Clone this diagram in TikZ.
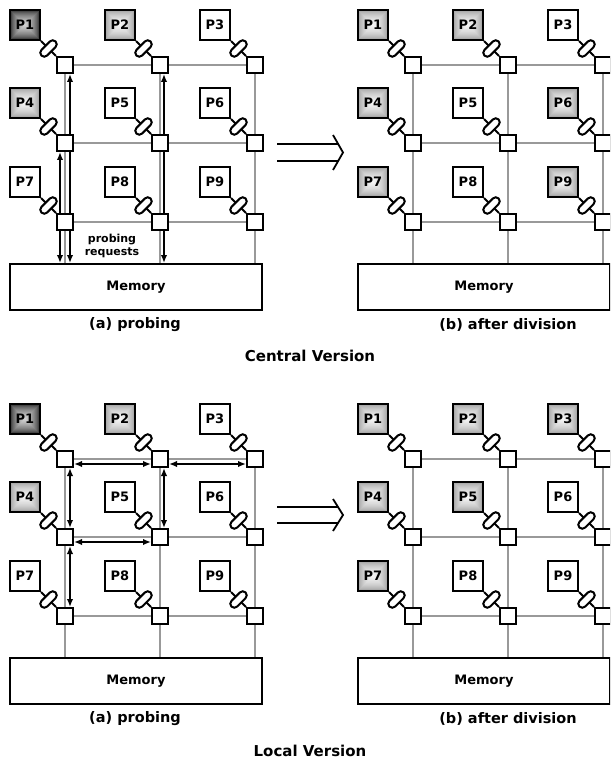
\documentclass[tikz,border=0pt]{standalone}
\usepackage{fontspec}
\setmainfont{DejaVu Sans}
\usetikzlibrary{arrows.meta,shapes.misc,backgrounds,calc}

\definecolor{pdarkout}{gray}{0.10}
\definecolor{pdarkin}{gray}{0.82}
\definecolor{plightout}{gray}{0.58}
\definecolor{plightin}{gray}{0.96}

\tikzset{
  pbox/.style={draw=black, line width=2pt, minimum size=30pt, inner sep=0pt,
    font=\fontsize{13}{15}\selectfont\bfseries},
  router/.style={draw=black, line width=2pt, fill=white, minimum size=16pt, inner sep=0pt},
  gridline/.style={draw=black!40, line width=1.1pt},
  linkwire/.style={draw=black, line width=2pt},
  capsule/.style={draw=black, line width=2pt, fill=white, rounded rectangle,
    minimum width=20pt, minimum height=8pt, inner sep=0pt, rotate=45},
  probe/.style={draw=black, line width=2pt,
    {Latex[length=8pt,width=6.5pt]}-{Latex[length=8pt,width=6.5pt]}},
  membox/.style={draw=black, line width=2pt, minimum width=252pt, minimum height=46pt,
    inner sep=0pt, font=\fontsize{13}{15}\selectfont\bfseries},
  subcap/.style={font=\fontsize{14.5}{17}\selectfont\bfseries},
  versiontitle/.style={font=\fontsize{15}{18}\selectfont\bfseries},
  bigarrow/.style={draw=black, line width=1.8pt},
}

% square with a box-shaped gradient: #1,#2 top-left corner, #3 edge colour, #4 centre colour
\newcommand\gradsq[4]{%
  \foreach \k in {0,...,14}{%
    \pgfmathtruncatemacro\pc{round(100*(\k/14)^0.55)}%
    \fill[#4!\pc!#3] (#1+\k,#2+\k) rectangle (#1+30-\k,#2+30-\k);
  }}

% one 3x3 mesh with its memory: #1 prefix, #2/#3 offset, #4 shades of P1..P9 (0 white, 1 grey, 2 dark)
\newcommand\meshpanel[4]{%
  \begin{scope}[shift={(#2,#3)}]
    \foreach \s [count=\i from 0] in {#4}{%
      \pgfmathtruncatemacro\cc{mod(\i,3)}%
      \pgfmathtruncatemacro\rr{div(\i,3)}%
      \pgfmathtruncatemacro\nn{\i+1}%
      \pgfmathtruncatemacro\px{10+95*\cc}%
      \pgfmathtruncatemacro\py{10+78*\rr+int(\rr/2)}%
      \ifcase\s\relax\or\gradsq{\px}{\py}{plightout}{plightin}\or\gradsq{\px}{\py}{pdarkout}{pdarkin}\fi
      \node[pbox] (#1-P\nn) at (\px+15,\py+15) {P\nn};
      \node[router] (#1-R\nn) at (\px+55,\py+55) {};
      \node[capsule] (#1-K\nn) at (\px+38.5,\py+38.5) {};
      \begin{pgfonlayer}{background}
        \draw[linkwire] (#1-P\nn.south east) -- (#1-R\nn.north west);
      \end{pgfonlayer}
    }
    \node[membox] (#1-M) at (136,287) {Memory};
    \begin{pgfonlayer}{background}
      \foreach \a/\b in {1/2,2/3,4/5,5/6,7/8,8/9,1/4,4/7,2/5,5/8,3/6,6/9}
        \draw[gridline] (#1-R\a.center) -- (#1-R\b.center);
      \foreach \a in {7,8,9}
        \draw[gridline] (#1-R\a.center) -- (#1-R\a.center |- #1-M.north);
    \end{pgfonlayer}
  \end{scope}}

\begin{document}
\begin{tikzpicture}[x=1pt,y=-1pt,font=\bfseries]
  \useasboundingbox (0,0) rectangle (610,762);
  \clip (0,0) rectangle (610,762);

  % ---------- central version ----------
  \meshpanel{CL}{0}{0}{2,1,0,1,0,0,0,0,0}
  \meshpanel{CR}{348}{0}{1,1,0,1,0,1,1,0,1}
  \begin{pgfonlayer}{background}
    \draw[probe] ([xshift=5pt]CL-R1.south) -- ([xshift=5pt]CL-R1.south |- CL-M.north);
    \draw[probe] ([xshift=-5pt]CL-R4.south) -- ([xshift=-5pt]CL-R4.south |- CL-M.north);
    \draw[probe] ([xshift=4pt]CL-R2.south) -- ([xshift=4pt]CL-R2.south |- CL-M.north);
  \end{pgfonlayer}
  \node[align=center, font=\fontsize{11}{12.5}\selectfont\bfseries] (req) at (112,246) {probing\\requests};
  \node[subcap] (capCL) at (135,325) {(a) probing};
  \node[subcap] (capCR) at (508,325) {(b) after division};
  \node[versiontitle] (titleC) at (310,356) {Central Version};
  \draw[bigarrow] (277,144) -- (338,144) (277,161) -- (338,161)
                  (333,135) -- (343,152.5) -- (333,170);

  % ---------- local version ----------
  \meshpanel{LL}{0}{394}{2,1,0,1,0,0,0,0,0}
  \meshpanel{LR}{348}{394}{1,1,1,1,1,0,1,0,0}
  \begin{pgfonlayer}{background}
    \draw[probe] ([yshift=-5pt]LL-R1.east) -- ([yshift=-5pt]LL-R2.west);
    \draw[probe] ([yshift=-5pt]LL-R2.east) -- ([yshift=-5pt]LL-R3.west);
    \draw[probe] ([yshift=-5pt]LL-R4.east) -- ([yshift=-5pt]LL-R5.west);
    \draw[probe] ([xshift=5pt]LL-R1.south) -- ([xshift=5pt]LL-R4.north);
    \draw[probe] ([xshift=5pt]LL-R4.south) -- ([xshift=5pt]LL-R7.north);
    \draw[probe] ([xshift=4pt]LL-R2.south) -- ([xshift=4pt]LL-R5.north);
  \end{pgfonlayer}
  \node[subcap] (capLL) at (135,719) {(a) probing};
  \node[subcap] (capLR) at (508,719) {(b) after division};
  \node[versiontitle] (titleL) at (310,751) {Local Version};
  \draw[bigarrow] (277,507) -- (338,507) (277,523) -- (338,523)
                  (333,499) -- (343,515) -- (333,531);
\end{tikzpicture}
\end{document}
